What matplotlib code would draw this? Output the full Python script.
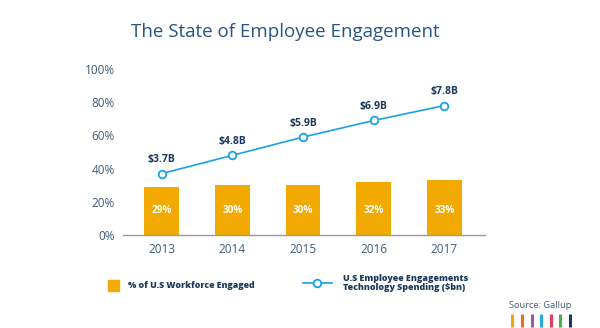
import matplotlib
matplotlib.use("Agg")
import matplotlib.pyplot as plt
from matplotlib.lines import Line2D
from matplotlib.patches import Rectangle

plt.rcParams['font.family'] = ['Open Sans', 'DejaVu Sans']

years = ["2013", "2014", "2015", "2016", "2017"]
engaged = [29, 30, 30, 32, 33]
spending = [3.7, 4.8, 5.9, 6.9, 7.8]
yticks = [0, 20, 40, 60, 80, 100]

orange = "#F2A900"
blue = "#1BA1E2"
navy = "#1B3A5C"
tickc = "#3F5B78"
titlec = "#2A5485"

fig = plt.figure(figsize=(6, 3.28), dpi=100)
ax = fig.add_axes([0.205, 0.2835, 0.603, 0.506])
x = list(range(len(years)))
ax.bar(x, engaged, width=0.49, color=orange, zorder=2)
line_vals = [s * 10 for s in spending]
ax.plot(x, line_vals, color=blue, lw=1.2, marker='o', ms=5.5,
        mfc='white', mec=blue, mew=1.3, zorder=3)
for xi, e in zip(x, engaged):
    ax.text(xi, 14.5, f"{e}%", color='white', fontsize=7.2, fontweight='bold',
            ha='center', va='center', zorder=4)
for xi, v, s in zip(x, line_vals, spending):
    ax.text(xi, v + 5, f"${s}B", color=navy, fontsize=7.5, fontweight='bold',
            ha='center', va='bottom', zorder=4)

ax.set_xlim(-0.547, 4.57)
ax.set_ylim(0, 100)
ax.set_xticks(x)
ax.set_xticklabels(years, fontsize=8.5, color=tickc)
ax.set_yticks(yticks)
ax.set_yticklabels([f"{t}%" for t in yticks], fontsize=8.5, color=tickc)
ax.tick_params(length=0, pad=6)
for s in ['top', 'right', 'left']:
    ax.spines[s].set_visible(False)
ax.spines['bottom'].set_color('#9A9A9A')
ax.spines['bottom'].set_linewidth(1)

fig.text(0.475, 0.902, "The State of Employee Engagement", fontsize=13.5,
         color=titlec, ha='center', va='center')

# legend
fig.patches.append(Rectangle((108 / 600, 1 - 291 / 328), 11 / 600, 11 / 328,
                             transform=fig.transFigure, color=orange))
fig.text(128 / 600, 1 - 285 / 328, "% of U.S Workforce Engaged", fontsize=6.3,
         fontweight='heavy', color=navy, va='center', ha='left')
fig.add_artist(Line2D([303 / 600, 332 / 600], [1 - 283 / 328, 1 - 283 / 328],
                      transform=fig.transFigure, color=blue, lw=1.2))
fig.add_artist(Line2D([317 / 600], [1 - 283 / 328], transform=fig.transFigure,
                      marker='o', ms=5.5, mfc='white', mec=blue, mew=1.3))
fig.text(343 / 600, 1 - 283 / 328,
         "U.S Employee Engagements\nTechnology Spending ($bn)", fontsize=6.4,
         fontweight='heavy', color=navy, va='center', ha='left', linespacing=1.1)

fig.text(571 / 600, 1 - 306 / 328, "Source: Gallup", fontsize=6.7,
         color=tickc, ha='right', va='center')
stripe_colors = ["#F2A900", "#E8702A", "#9B59A6", "#29A9E1", "#E0405A", "#4CAF50", "#1B3A5C"]
stripe_x = [512, 521.7, 531.7, 541.3, 551, 560.3, 570]
for sx, c in zip(stripe_x, stripe_colors):
    fig.add_artist(Line2D([sx / 600, sx / 600], [1 - 314 / 328, 1 - 327 / 328],
                          transform=fig.transFigure, color=c, lw=2.2,
                          solid_capstyle='butt'))

fig.savefig("out.png", dpi=100)
